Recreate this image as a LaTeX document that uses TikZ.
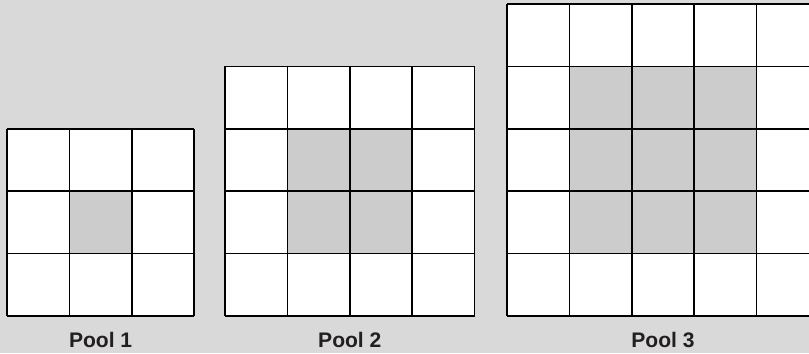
\documentclass[tikz,border=0pt]{standalone}
\usepackage{fontspec}
\setmainfont{Liberation Sans}
\usetikzlibrary{positioning}
\definecolor{cBack}{RGB}{217,217,217}
\definecolor{cPool}{RGB}{204,204,204}
\definecolor{cText}{RGB}{35,31,32}

\begin{document}
\begin{tikzpicture}[every node/.style={font=\fontsize{9.6}{11}\selectfont\bfseries, text=cText},
    gridline/.style={line width=0.75pt, black}]
        \useasboundingbox (0,0) rectangle (12.965,5.657);
        \fill[cBack] (0,0) rectangle (12.965,5.657);
        \clip (0,0) rectangle (12.965,5.657);
        % one grid per pool: size / left edge / number
        \foreach \n/\x/\k in {3/0.112/1, 4/3.606/2, 5/8.125/3} {
          \begin{scope}[shift={(\x,0.593)}]
            \fill[white] (0,0) rectangle (\n,\n);
            \fill[cPool] (1,1) rectangle (\n-1,\n-1);
            \draw[gridline] (0,0) grid (\n,\n);
          \end{scope}
          \node (pool\k) at (\x+\n/2,0.208) {Pool \k};
        }
      \end{tikzpicture}
\end{document}
